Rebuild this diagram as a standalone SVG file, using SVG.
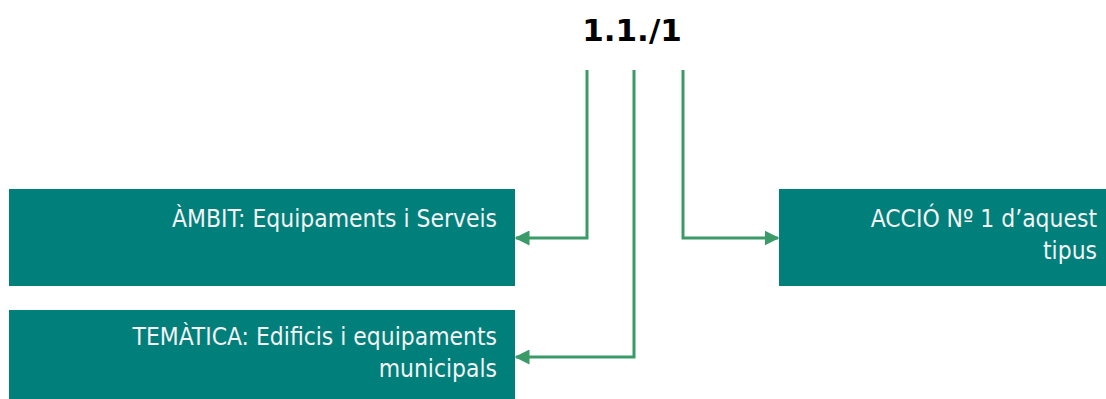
<svg xmlns="http://www.w3.org/2000/svg" width="1106" height="399" viewBox="0 0 1106 399">
<defs>
<style>
.box{fill:#007f7b}
.lbl{font-family:"DejaVu Sans Condensed","DejaVu Sans",sans-serif;font-size:24.4px;fill:#f4f4f4;text-anchor:end}
.title{font-family:"DejaVu Sans","Liberation Sans",sans-serif;font-weight:bold;font-size:31px;fill:#000;text-anchor:middle}
.con{fill:none;stroke:#3a9a68;stroke-width:3;marker-end:url(#ah)}
</style>
<marker id="ah" viewBox="0 0 10 10" refX="9" refY="5" markerWidth="5" markerHeight="5" orient="auto" markerUnits="strokeWidth">
<path d="M0,0 L10,5 L0,10 z" fill="#3a9a68"/>
</marker>
</defs>
<g id="title"><text class="title" x="632" y="41">1.1./1</text></g>
<g id="ambit"><rect class="box" x="9" y="189" width="506" height="97"/><text class="lbl" x="497" y="227">ÀMBIT: Equipaments i Serveis</text></g>
<g id="tematica"><rect class="box" x="9" y="310" width="506" height="89"/><text class="lbl" x="497" y="345">TEMÀTICA: Edificis i equipaments</text><text class="lbl" x="497" y="377">municipals</text></g>
<g id="accio"><rect class="box" x="779" y="189" width="327" height="97"/><text class="lbl" x="1097" y="227">ACCIÓ Nº 1 d’aquest</text><text class="lbl" x="1097" y="259">tipus</text></g>
<g id="connectors">
<path class="con" d="M587,70 V238 H516"/>
<path class="con" d="M634,70 V357 H516"/>
<path class="con" d="M683,70 V238 H778"/>
</g>
</svg>
